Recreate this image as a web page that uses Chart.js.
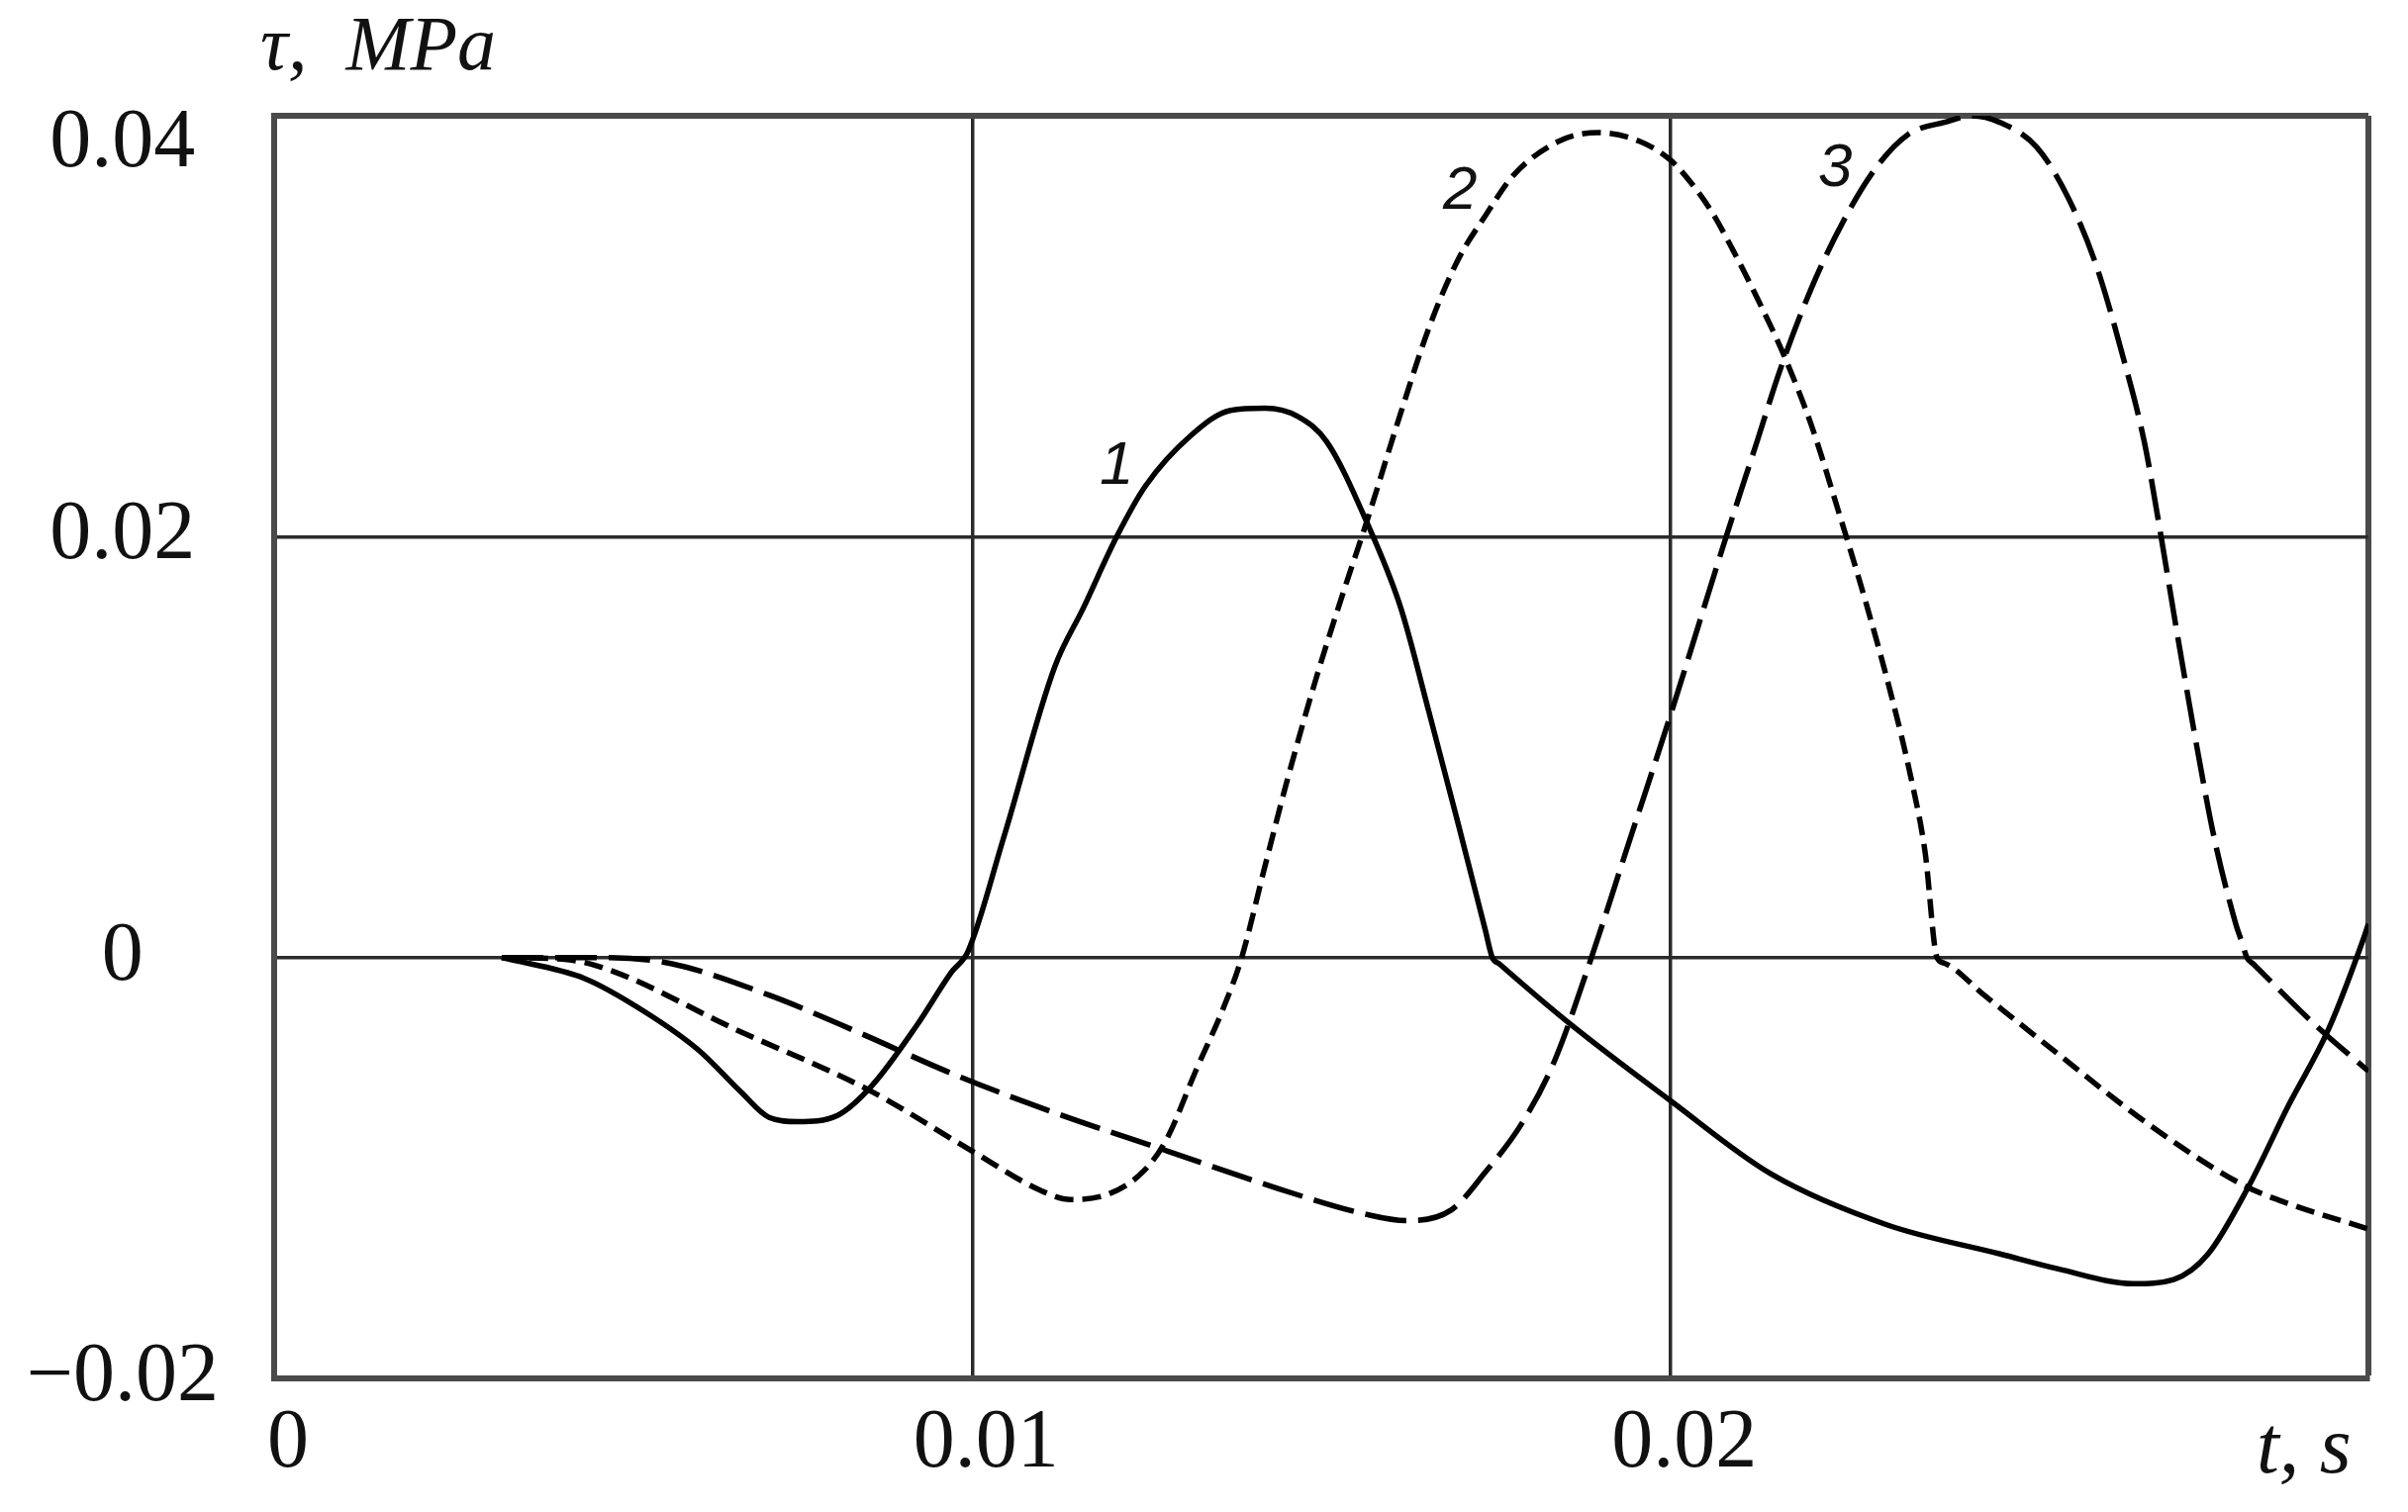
<!DOCTYPE html>
<html>
<head>
<meta charset="utf-8">
<title>Shear stress vs time</title>
<script src="https://cdn.jsdelivr.net/npm/chart.js@4.4.1/dist/chart.umd.min.js"></script>
<style>
    html, body { margin: 0; padding: 0; background: #ffffff; }
    canvas { display: block; }
</style>
</head>
<body>
<canvas id="stressChart" width="2433" height="1528" style="width:2433px;height:1528px"></canvas>
<script>
// Tick values
const xTicks = [0, 0.01, 0.02, 0.03];
const yTicks = [-0.02, 0, 0.02, 0.04];

// Curve 1 (solid)
const t1 = [0.00326, 0.00445, 0.00532, 0.00608, 0.00669, 0.00709, 0.0075, 0.00807, 0.00856, 0.00921,
    0.0097, 0.00994, 0.01045, 0.01118, 0.01159, 0.01207, 0.01248, 0.01313, 0.0137, 0.01419,
    0.01467, 0.01508, 0.01565, 0.01614, 0.01654, 0.01695, 0.01735, 0.01745, 0.01755, 0.01858,
    0.02, 0.02145, 0.0231, 0.02474, 0.02556, 0.02664, 0.02721, 0.0277, 0.02828, 0.02886,
    0.02943, 0.02993, 0.03];
const tau1 = [0, -0.001, -0.0026, -0.0044, -0.0064, -0.0076, -0.0078, -0.0075, -0.0061, -0.0032,
    -0.0007, 0.0003, 0.0057, 0.0138, 0.0166, 0.02, 0.0224, 0.0248, 0.026, 0.0261,
    0.0257, 0.0245, 0.0207, 0.0166, 0.0117, 0.0065, 0.0013, 0, -0.0003, -0.0032,
    -0.0068, -0.0103, -0.0127, -0.0141, -0.0148, -0.0155, -0.0153, -0.0141, -0.0109, -0.007,
    -0.0034, 0.0009, 0.0016];

// Curve 2 (short dashes)
const t2 = [0.00326, 0.0042, 0.00481, 0.0066, 0.00852, 0.01, 0.011, 0.01141, 0.01198, 0.01247,
    0.01279, 0.0132, 0.01361, 0.01386, 0.01419, 0.01451, 0.01492, 0.01533, 0.01565, 0.01614,
    0.01654, 0.01695, 0.01736, 0.01776, 0.01841, 0.01896, 0.01955, 0.02, 0.0203, 0.0206,
    0.0209, 0.02125, 0.02163, 0.02202, 0.0224, 0.02279, 0.02317, 0.02345, 0.02365, 0.02382,
    0.02392, 0.0245, 0.02556, 0.0268, 0.0282, 0.02886, 0.03];
const tau2 = [0, -0.0001, -0.0006, -0.0034, -0.0063, -0.0092, -0.0111, -0.0115, -0.0112, -0.0101,
    -0.0086, -0.0054, -0.0023, 0, 0.0043, 0.0084, 0.0132, 0.0175, 0.0207, 0.0259,
    0.0299, 0.0331, 0.0353, 0.0372, 0.0388, 0.0392, 0.0388, 0.0379, 0.0368, 0.0354,
    0.0336, 0.0313, 0.0286, 0.0253, 0.0213, 0.017, 0.0124, 0.0085, 0.005, 0,
    -0.00026, -0.0018, -0.0046, -0.0078, -0.0108, -0.0117, -0.0129];

// Curve 3 (long dashes)
const t3 = [0.00326, 0.0048, 0.0057, 0.0071, 0.0084, 0.0097, 0.0112, 0.0128, 0.0144, 0.01564,
    0.01621, 0.01686, 0.01735, 0.01787, 0.01833, 0.01887, 0.0194, 0.02, 0.0208, 0.02125,
    0.02157, 0.02202, 0.02248, 0.02294, 0.0234, 0.02394, 0.02432, 0.02471, 0.02525, 0.0257,
    0.0261, 0.02648, 0.02679, 0.02702, 0.02725, 0.02756, 0.02779, 0.0281, 0.02818, 0.02826,
    0.02836, 0.02927, 0.03];
const tau3 = [0, 0, -0.0003, -0.0018, -0.0036, -0.0055, -0.0074, -0.0092, -0.011, -0.0122,
    -0.0125, -0.012, -0.0102, -0.0079, -0.005, 0, 0.0054, 0.0115, 0.02, 0.0246,
    0.0279, 0.0318, 0.035, 0.0375, 0.0391, 0.0397, 0.04, 0.0397, 0.0385, 0.0361,
    0.0329, 0.0286, 0.0245, 0.0202, 0.0156, 0.0097, 0.0057, 0.0016, 0.0008, 0,
    -0.00033, -0.0033, -0.0054];

// Curve numbers, placed in data units
const curveNames = ['1', '2', '3'];
const nameT = [0.01207, 0.01699, 0.02236];
const nameTau = [0.0233, 0.0364, 0.03746];

const toPoints = (ts, vs) => ts.map((t, i) => ({ x: t, y: vs[i] }));

const LINE_COLOR = '#000000';
const GRID_COLOR = '#2b2b2b';
const FRAME_COLOR = '#4a4a4a';
const SERIF = '"Liberation Serif", "Times New Roman", serif';

// y tick text; the top one sits a little under its line, as in the original
function yLabel(v) {
    if (v === 0) return '0';
    if (v === 0.04) return ['', v.toFixed(2)];
    return v < 0 ? '\u2212' + Math.abs(v).toFixed(2) : v.toFixed(2);
}

// Background, axis titles and curve numbers
const annotations = {
    id: 'annotations',
    beforeDraw(chart) {
        const ctx = chart.ctx;
        ctx.save();
        ctx.fillStyle = '#ffffff';
        ctx.fillRect(0, 0, chart.width, chart.height);
        ctx.restore();
    },
    afterDraw(chart) {
        const ctx = chart.ctx;
        const area = chart.chartArea;
        const xs = chart.scales.x;
        const ys = chart.scales.y;
        ctx.save();
        ctx.fillStyle = '#111111';
        ctx.textAlign = 'left';
        ctx.textBaseline = 'alphabetic';
        ctx.font = 'italic 78px ' + SERIF;
        ctx.fillText('\u03C4,  MPa', area.left - 14, area.top - 47);
        ctx.font = 'italic 82px ' + SERIF;
        ctx.fillText('t, s', area.right - 113, area.bottom + 95);

        ctx.font = 'italic 62px "Liberation Sans", Arial, sans-serif';
        ctx.textAlign = 'center';
        ctx.textBaseline = 'middle';
        curveNames.forEach((name, i) => {
            ctx.fillText(name, xs.getPixelForValue(nameT[i]), ys.getPixelForValue(nameTau[i]));
        });
        ctx.restore();
    }
};

const ctx = document.getElementById('stressChart').getContext('2d');
const stressChart = new Chart(ctx, {
    type: 'scatter',
    data: {
        datasets: [
            {
                label: '1',
                data: toPoints(t1, tau1),
                borderColor: LINE_COLOR,
                borderWidth: 5.5
            },
            {
                label: '2',
                data: toPoints(t2, tau2),
                borderColor: LINE_COLOR,
                borderWidth: 5.5,
                borderDash: [19, 9]
            },
            {
                label: '3',
                data: toPoints(t3, tau3),
                borderColor: LINE_COLOR,
                borderWidth: 5.5,
                borderDash: [42, 12]
            }
        ]
    },
    options: {
        responsive: false,
        devicePixelRatio: 1,
        animation: false,
        showLine: true,
        elements: {
            point: { radius: 0, hoverRadius: 0 },
            line: { cubicInterpolationMode: 'monotone', fill: false }
        },
        layout: {
            padding: { top: 117, right: 40, left: 0, bottom: 0 }
        },
        plugins: {
            legend: { display: false },
            tooltip: { enabled: false }
        },
        scales: {
            x: {
                type: 'linear',
                min: 0,
                max: 0.03,
                afterFit: (scale) => { scale.height = 135; },
                afterBuildTicks: (scale) => { scale.ticks = xTicks.map(v => ({ value: v })); },
                grid: {
                    drawTicks: false,
                    color: (c) => (c.tick && c.tick.value === 0.03 ? FRAME_COLOR : GRID_COLOR),
                    lineWidth: (c) => (c.tick && c.tick.value === 0.03 ? 6 : 3.5)
                },
                border: { display: true, width: 6, color: FRAME_COLOR },
                ticks: {
                    padding: 17,
                    labelOffset: 14,
                    color: '#111111',
                    font: { family: SERIF, size: 84 },
                    callback: (v) => (v === 0.03 ? '' : (v === 0 ? '0' : v.toFixed(2)))
                }
            },
            y: {
                type: 'linear',
                min: -0.02,
                max: 0.04,
                afterFit: (scale) => { scale.width = 277; },
                afterBuildTicks: (scale) => { scale.ticks = yTicks.map(v => ({ value: v })); },
                grid: {
                    drawTicks: false,
                    color: (c) => (c.tick && c.tick.value === 0.04 ? FRAME_COLOR : GRID_COLOR),
                    lineWidth: (c) => (c.tick && c.tick.value === 0.04 ? 6 : 3.5)
                },
                border: { display: true, width: 6, color: FRAME_COLOR },
                ticks: {
                    padding: 56,
                    crossAlign: 'center',
                    color: '#111111',
                    font: { family: SERIF, size: 84, lineHeight: 0.7 },
                    callback: yLabel
                }
            }
        }
    },
    plugins: [annotations]
});
</script>
</body>
</html>
